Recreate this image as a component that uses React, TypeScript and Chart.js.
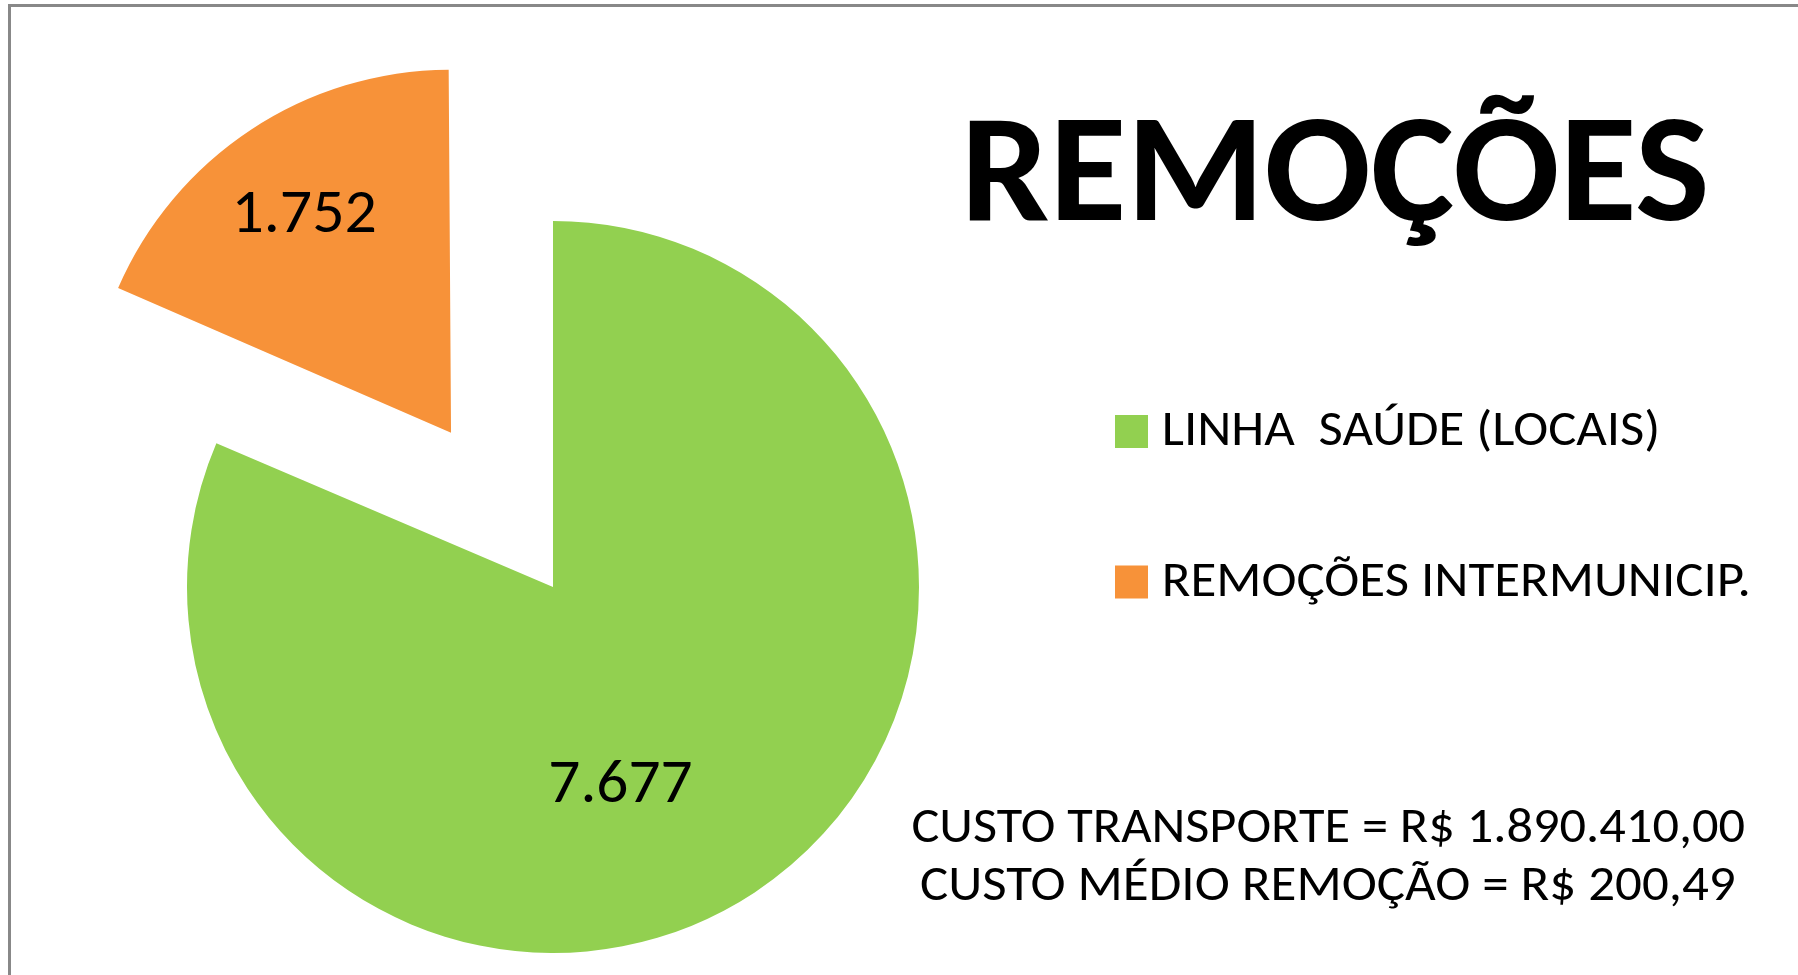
import React, { useEffect, useRef } from "react";
import { Chart, registerables } from "chart.js";

Chart.register(...registerables);

// ---- data ----
const CATEGORIES = ["LINHA  SAÚDE (LOCAIS)", "REMOÇÕES INTERMUNICIP."];
const VALUES = [7677, 1752];
const COLORS = ["#92D050", "#F79239"];
const TITLE = "REMOÇÕES";
const NOTES = ["CUSTO TRANSPORTE = R$ 1.890.410,00", "CUSTO MÉDIO REMOÇÃO = R$ 200,49"];

// ---- layout / style constants ----
const W = 1798;
const H = 975;
const FONT = "Carlito, Calibri, Lato, 'Open Sans', sans-serif";
const PIE_R = 366;
const EXPLODE_PX = [0, 185];
const SLICE_R = [366, 363];
const LABEL_DIST = [0.564, 0.721];
const LABEL_SHIFT_DEG = [14.25, 0];
const LABEL_INK_W = [141, 138];

function fmt(v: number): string {
  return String(v).replace(/\B(?=(\d{3})+(?!\d))/g, ".");
}

type FitOpts = {
  weight: string;
  capH: number;
  inkWidth: number;
  baseline: number;
  inkLeft?: number;
  inkCenter?: number;
};

function drawFitted(ctx: CanvasRenderingContext2D, text: string, o: FitOpts) {
  ctx.save();
  ctx.font = `${o.weight} 100px ${FONT}`;
  ctx.textAlign = "left";
  ctx.textBaseline = "alphabetic";
  const capRatio = ctx.measureText("H").actualBoundingBoxAscent / 100;
  const size = o.capH / capRatio;
  ctx.font = `${o.weight} ${size}px ${FONT}`;
  const m = ctx.measureText(text);
  const ink = m.actualBoundingBoxLeft + m.actualBoundingBoxRight;
  const sx = o.inkWidth / ink;
  const left = o.inkLeft !== undefined ? o.inkLeft : (o.inkCenter as number) - o.inkWidth / 2;
  ctx.translate(left, o.baseline);
  ctx.scale(sx, 1);
  ctx.fillText(text, m.actualBoundingBoxLeft, 0);
  ctx.restore();
}

const extrasPlugin = {
  id: "extras",
  afterDatasetsUpdate(chart: any) {
    const meta = chart.getDatasetMeta(0);
    meta.data.forEach((arc: any, i: number) => {
      const off = EXPLODE_PX[i];
      const fix = off ? 1 - Math.sin(Math.min(Math.PI, arc.circumference)) : 0;
      arc.outerRadius = SLICE_R[i] - off * fix;
    });
  },
  afterDatasetsDraw(chart: any) {
    const ctx = chart.ctx as CanvasRenderingContext2D;
    const meta = chart.getDatasetMeta(0);
    ctx.save();
    ctx.fillStyle = "#000";
    meta.data.forEach((arc: any, i: number) => {
      const { x, y, startAngle, endAngle } = arc;
      const mid = (startAngle + endAngle) / 2;
      const off = EXPLODE_PX[i];
      const cx = x + Math.cos(mid) * off;
      const cy = y + Math.sin(mid) * off;
      const a = mid + (LABEL_SHIFT_DEG[i] * Math.PI) / 180;
      const d = LABEL_DIST[i] * PIE_R;
      const px = cx + Math.cos(a) * d;
      const py = cy + Math.sin(a) * d;
      drawFitted(ctx, fmt(VALUES[i]), {
        weight: "normal",
        capH: 40,
        inkWidth: LABEL_INK_W[i],
        inkCenter: px,
        baseline: py + 20,
      });
    });
    ctx.restore();
  },
  afterDraw(chart: any) {
    const ctx = chart.ctx as CanvasRenderingContext2D;
    ctx.save();
    ctx.fillStyle = "#000";
    // title
    drawFitted(ctx, TITLE, {
      weight: "bold",
      capH: 99.5,
      inkWidth: 736,
      inkCenter: 1337,
      baseline: 220,
    });
    // legend
    const squareTop = [415, 565.5];
    const legendBase = [444.5, 595.5];
    const legendInk = [492, 583];
    CATEGORIES.forEach((c, i) => {
      ctx.fillStyle = COLORS[i];
      ctx.fillRect(1115, squareTop[i], 33, 33);
      ctx.fillStyle = "#000";
      drawFitted(ctx, c, {
        weight: "normal",
        capH: 32.5,
        inkWidth: legendInk[i],
        inkLeft: 1165,
        baseline: legendBase[i],
      });
    });
    // notes
    const noteLeft = [912.5, 921];
    const noteW = [832, 813];
    const noteBase = [841.7, 900];
    NOTES.forEach((n, i) =>
      drawFitted(ctx, n, {
        weight: "normal",
        capH: 31.5,
        inkWidth: noteW[i],
        inkLeft: noteLeft[i],
        baseline: noteBase[i],
      })
    );
    ctx.restore();
  },
};

export default function App() {
  const ref = useRef<HTMLCanvasElement | null>(null);
  useEffect(() => {
    if (!ref.current) return;
    const chart = new Chart(ref.current, {
      type: "pie",
      data: {
        labels: CATEGORIES,
        datasets: [
          {
            data: VALUES,
            backgroundColor: COLORS,
            borderWidth: 0,
            offset: EXPLODE_PX.map((v) => v * 4),
            hoverOffset: 0,
          } as any,
        ],
      },
      options: {
        responsive: false,
        animation: false,
        devicePixelRatio: 1,
        radius: PIE_R,
        layout: { padding: { left: 0, right: 692, top: 199, bottom: 0 } },
        events: [],
        plugins: {
          legend: { display: false },
          tooltip: { enabled: false },
          title: { display: false },
        },
      } as any,
      plugins: [extrasPlugin],
    });
    return () => chart.destroy();
  }, []);

  return (
    <div
      style={{
        position: "fixed",
        left: 0,
        top: 0,
        width: W,
        height: H,
        overflow: "hidden",
        background: "#fff",
      }}
    >
      <div
        style={{
          position: "absolute",
          left: 8,
          top: 4,
          width: 2400,
          height: 2400,
          border: "3px solid #888",
          boxSizing: "border-box",
        }}
      />
      <canvas
        ref={ref}
        width={W}
        height={H}
        style={{ position: "absolute", left: 0, top: 0, width: W, height: H }}
      />
    </div>
  );
}
